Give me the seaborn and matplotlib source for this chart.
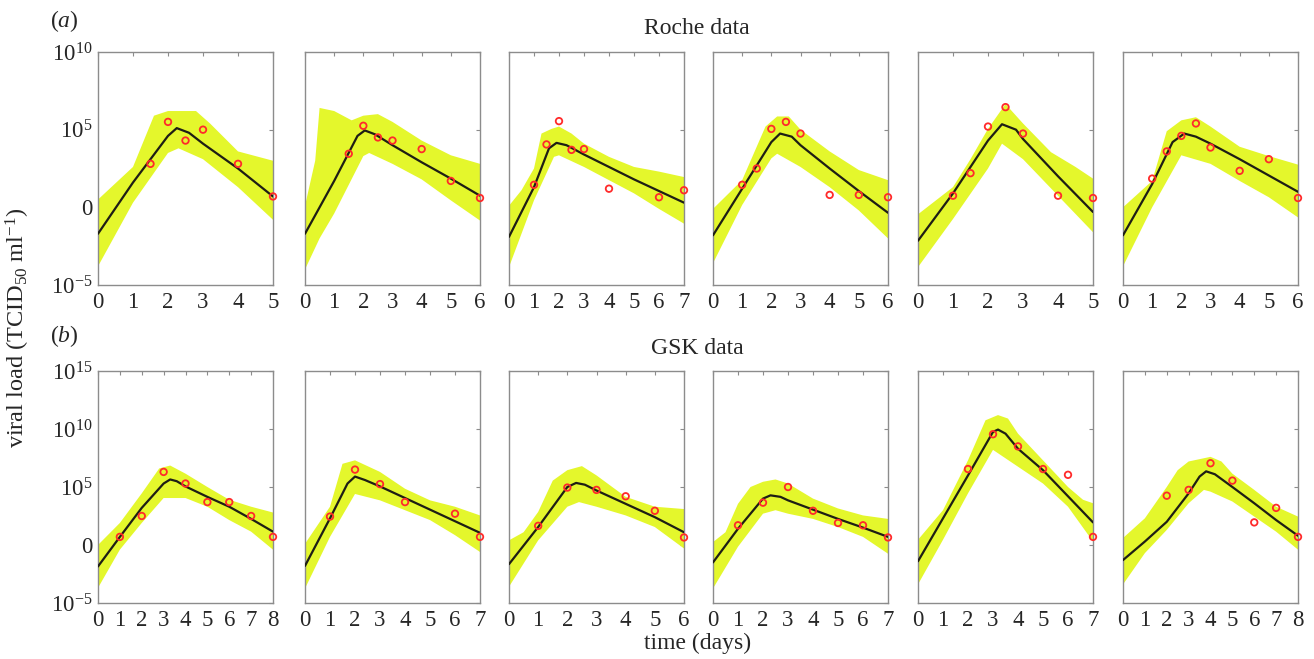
import numpy as np
import matplotlib
matplotlib.use('Agg')
import matplotlib.pyplot as plt
import seaborn as sns

# ---- data (log10 of viral load) ----
ROCHE_XMAX = [5, 6, 7, 6, 5, 6]
GSK_XMAX = [8, 7, 6, 7, 7, 8]

# best-fit curves
ROCHE_FIT_T = [[0, 1, 2, 2.25, 2.6, 3, 4, 5],
               [0, 1, 1.8, 2.05, 2.4, 3, 4, 5, 6],
               [0, 1, 1.6, 1.9, 2.3, 3, 4, 5, 6, 7],
               [0, 1, 2, 2.3, 2.7, 3, 4, 5, 6],
               [0, 1, 2, 2.4, 2.8, 3, 4, 5],
               [0, 1, 1.7, 2.1, 2.5, 3, 4, 5, 6]]
ROCHE_FIT = [[-1.7, 1.6, 4.6, 5.1, 4.8, 4.1, 2.5, 0.7],
             [-1.7, 1.7, 4.6, 4.95, 4.7, 4.0, 2.9, 1.85, 0.75],
             [-1.9, 1.3, 3.8, 4.15, 4.0, 3.4, 2.6, 1.8, 1.05, 0.3],
             [-1.8, 1.2, 4.2, 4.75, 4.55, 4.0, 2.5, 1.05, -0.35],
             [-2.15, 0.9, 4.3, 5.35, 5.0, 4.4, 2.0, -0.3],
             [-1.8, 1.5, 4.2, 4.75, 4.55, 4.1, 3.1, 2.05, 1.0]]
GSK_FIT_T = [[0, 1, 2, 3, 3.3, 3.6, 4, 5, 6, 7, 8],
             [0, 1, 1.7, 2, 2.4, 3, 4, 5, 6, 7],
             [0, 1, 2, 2.3, 2.6, 3, 4, 5, 6],
             [0, 1, 2, 2.3, 2.7, 3, 4, 5, 6, 7],
             [0, 1, 2, 3, 3.2, 3.5, 4, 5, 6, 7],
             [0, 1, 2, 3, 3.5, 3.8, 4.2, 5, 6, 7, 8]]
GSK_FIT = [[-1.85, 0.7, 3.2, 5.3, 5.65, 5.5, 5.05, 4.15, 3.3, 2.25, 1.15],
           [-1.8, 2.3, 5.3, 5.9, 5.6, 5.05, 4.05, 3.05, 2.05, 1.05],
           [-1.65, 1.55, 5.0, 5.35, 5.2, 4.7, 3.55, 2.4, 1.1],
           [-1.5, 1.4, 4.0, 4.28, 4.15, 3.85, 3.05, 2.25, 1.5, 0.7],
           [-1.4, 2.3, 6.0, 9.75, 9.95, 9.6, 8.3, 6.45, 4.2, 1.95],
           [-1.3, 0.3, 2.0, 4.45, 5.9, 6.35, 6.1, 5.0, 3.6, 2.15, 0.8]]

# upper edge of the sampled trajectories
ROCHE_HI_T = [[0, 1, 1.6, 2, 2.8, 3.2, 4, 5],
              [0, 0.35, 0.5, 1, 1.6, 2, 2.5, 3, 4, 5, 6],
              [0, 0.5, 1, 1.3, 1.7, 2, 2.5, 3, 4, 5, 6, 7],
              [0, 1, 1.8, 2.2, 2.6, 3, 4, 5, 6],
              [0, 1, 1.5, 2, 2.5, 3, 3.8, 4.5, 5],
              [0, 1, 1.5, 2, 2.5, 3, 4, 5, 6]]
ROCHE_HI = [[0.5, 2.6, 5.9, 6.2, 6.2, 5.4, 3.6, 3.0],
            [0.1, 3.0, 6.4, 6.2, 5.6, 5.9, 6.0, 5.5, 4.3, 3.35, 2.8],
            [0.1, 1.1, 2.5, 4.75, 5.05, 5.2, 4.75, 4.1, 3.25, 2.6, 2.3, 1.95],
            [-0.1, 1.75, 5.2, 5.85, 5.85, 5.0, 3.6, 2.4, 1.75],
            [-0.45, 1.3, 3.1, 5.05, 6.65, 5.4, 3.55, 2.6, 1.85],
            [0.0, 1.7, 4.9, 5.6, 5.8, 5.2, 3.9, 3.3, 2.75]]
GSK_HI_T = [[0, 1, 2, 2.8, 3.3, 4, 5, 6, 7, 8],
            [0, 1, 1.5, 2, 3, 4, 5, 6, 7],
            [0, 0.5, 1, 1.5, 2, 2.5, 3, 4, 5, 6],
            [0, 0.5, 1, 1.5, 2, 2.5, 3, 4, 5, 6, 7],
            [0, 1, 2, 2.7, 3.2, 3.6, 4, 5, 6, 6.6, 7],
            [0, 1, 2, 2.5, 3, 4, 4.5, 5, 6, 7, 8]]
GSK_HI = [[0.0, 1.9, 4.45, 6.6, 6.85, 6.15, 5.0, 3.9, 3.3, 2.8],
          [0.1, 3.3, 7.0, 7.3, 6.3, 4.85, 3.85, 3.3, 2.55],
          [0.4, 1.1, 2.85, 5.55, 6.45, 6.8, 6.0, 4.15, 3.3, 3.1],
          [0.25, 1.1, 3.55, 5.0, 5.45, 5.65, 5.3, 4.0, 3.15, 2.55, 2.25],
          [0.45, 3.0, 7.3, 10.75, 11.2, 10.9, 9.6, 7.3, 5.0, 3.9, 3.6],
          [0.6, 2.3, 5.0, 6.45, 7.2, 7.6, 7.2, 6.15, 4.75, 3.3, 2.45]]

# lower edge of the sampled trajectories
ROCHE_LO_T = [[0, 1, 2, 2.3, 3, 4, 5],
              [0, 0.5, 1, 2, 2.2, 3, 4, 5, 6],
              [0, 1, 1.8, 2, 3, 4, 5, 6, 7],
              [0, 1, 2, 2.2, 3, 4, 5, 6],
              [0, 1, 2, 2.4, 3, 4, 5],
              [0, 1, 2, 3, 4, 5, 6]]
ROCHE_LO = [[-3.8, 0.3, 3.5, 3.8, 3.1, 1.3, -0.8],
            [-4.0, -2.0, -0.4, 3.3, 3.5, 2.8, 1.8, 0.45, -0.85],
            [-3.85, 0.45, 3.25, 3.35, 2.6, 1.75, 0.9, -0.1, -1.05],
            [-3.6, 0.15, 3.15, 3.45, 2.6, 1.3, -0.2, -2.0],
            [-3.85, -0.75, 2.5, 4.1, 3.1, 0.75, -1.6],
            [-3.8, 0.0, 3.35, 2.8, 1.7, 0.65, -0.65]]
GSK_LO_T = [[0, 1, 2, 3, 4, 5, 6, 7, 8],
            [0, 1, 2, 3, 4, 5, 6, 7],
            [0, 1, 2, 2.4, 3, 4, 5, 6],
            [0, 1, 2, 2.5, 3, 4, 5, 6, 7],
            [0, 1, 2, 3, 4, 5, 6, 7],
            [0, 1, 2, 3, 3.7, 4, 5, 6, 7, 8]]
GSK_LO = [[-3.7, -0.4, 1.9, 4.05, 4.05, 3.3, 2.15, 1.15, -0.4],
          [-3.75, 0.7, 4.4, 3.85, 3.0, 2.15, 0.85, -0.6],
          [-3.6, 0.4, 3.3, 3.7, 3.3, 2.55, 1.55, -0.3],
          [-3.75, -0.15, 2.7, 3.0, 2.7, 2.25, 1.55, 0.7, -0.75],
          [-3.4, 0.45, 4.45, 8.2, 6.75, 5.3, 3.3, 0.3],
          [-3.4, -0.7, 1.3, 3.6, 4.75, 4.6, 3.75, 2.45, 1.15, -0.4]]

# observed data
ROCHE_OBS_T = [[1.5, 2, 2.5, 3, 4, 5],
               [1.5, 2, 2.5, 3, 4, 5, 6],
               [1, 1.5, 2, 2.5, 3, 4, 6, 7],
               [1, 1.5, 2, 2.5, 3, 4, 5, 6],
               [1, 1.5, 2, 2.5, 3, 4, 5],
               [1, 1.5, 2, 2.5, 3, 4, 5, 6]]
ROCHE_OBS = [[2.8, 5.5, 4.3, 5.0, 2.8, 0.7],
             [3.45, 5.25, 4.5, 4.3, 3.75, 1.7, 0.6],
             [1.45, 4.05, 5.55, 3.7, 3.75, 1.2, 0.65, 1.1],
             [1.45, 2.5, 5.05, 5.5, 4.75, 0.8, 0.8, 0.65],
             [0.75, 2.2, 5.2, 6.45, 4.75, 0.75, 0.6],
             [1.85, 3.6, 4.6, 5.4, 3.85, 2.35, 3.1, 0.6]]
GSK_OBS_T = [[1, 2, 3, 4, 5, 6, 7, 8],
             [1, 2, 3, 4, 6, 7],
             [1, 2, 3, 4, 5, 6],
             [1, 2, 3, 4, 5, 6, 7],
             [2, 3, 4, 5, 6, 7],
             [2, 3, 4, 5, 6, 7, 8]]
GSK_OBS = [[0.7, 2.5, 6.3, 5.3, 3.7, 3.7, 2.5, 0.7],
           [2.45, 6.5, 5.25, 3.7, 2.7, 0.7],
           [1.65, 4.95, 4.75, 4.2, 2.95, 0.65],
           [1.7, 3.65, 5.0, 2.95, 1.9, 1.7, 0.65],
           [6.55, 9.55, 8.5, 6.55, 6.05, 0.7],
           [4.25, 4.75, 7.05, 5.55, 1.95, 3.2, 0.7]]

ROCHE_YTICKS = [-5, 0, 5, 10]
ROCHE_YLABELS = ['$10^{-5}$', '0', '$10^{5}$', '$10^{10}$']
GSK_YTICKS = [-5, 0, 5, 10, 15]
GSK_YLABELS = ['$10^{-5}$', '0', '$10^{5}$', '$10^{10}$', '$10^{15}$']

# ---- style ----
sns.set_style('white')
plt.rcParams['font.family'] = ['Liberation Serif', 'DejaVu Serif']
plt.rcParams['mathtext.fontset'] = 'custom'
plt.rcParams['mathtext.rm'] = 'Liberation Serif'
plt.rcParams['mathtext.it'] = 'Liberation Serif:italic'

BAND = '#e4f72c'
SPINE = '#8c8c8c'

W, H = 1314, 659
fig = plt.figure(figsize=(W / 100, H / 100), dpi=100)

lefts = [98, 305, 509, 713, 918, 1123]
ax_w = 175


def px_box(left, top, w, h):
    return [left / W, 1 - (top + h) / H, w / W, h / H]


def draw_row(top, height, xmax, fit_t, fit, hi_t, hi, lo_t, lo, obs_t, obs, yticks, ylabels):
    for i in range(6):
        ax = fig.add_axes(px_box(lefts[i], top, ax_w, height))
        # yellow envelope of sampled trajectories
        ht = np.array(hi_t[i])
        lt = np.array(lo_t[i])
        poly_t = np.concatenate([ht, lt[::-1]])
        poly_v = np.concatenate([np.array(hi[i]), np.array(lo[i])[::-1]])
        ax.fill(poly_t, 10.0 ** poly_v, color=BAND, lw=0, zorder=1)
        # best fit
        sns.lineplot(x=fit_t[i], y=10.0 ** np.array(fit[i]), ax=ax,
                     color='#1e1e14', lw=1.6, zorder=3, estimator=None, sort=False)
        # data
        sns.scatterplot(x=obs_t[i], y=10.0 ** np.array(obs[i]), ax=ax, marker='o',
                        s=22, facecolor='none', edgecolor='#ff2a2a', linewidth=1.3,
                        zorder=4, clip_on=False)
        ax.set_yscale('log')
        ax.set_xlim(0, xmax[i])
        ax.set_ylim(10.0 ** yticks[0], 10.0 ** yticks[-1])
        ax.set_xticks(range(xmax[i] + 1))
        ax.set_xticklabels([str(k) for k in range(xmax[i] + 1)])
        ax.set_yticks([10.0 ** k for k in yticks])
        ax.minorticks_off()
        if i == 0:
            ax.set_yticklabels(ylabels)
        else:
            ax.set_yticklabels([])
        ax.tick_params(direction='in', length=3, width=0.8, color=SPINE,
                       top=True, right=True, labelsize=16.5, pad=4)
        ax.tick_params(axis='x', pad=5)
        for sp in ax.spines.values():
            sp.set_color(SPINE)
            sp.set_linewidth(1.0)
        ax.set_xlabel('')
        ax.set_ylabel('')


draw_row(52, 233, ROCHE_XMAX, ROCHE_FIT_T, ROCHE_FIT, ROCHE_HI_T, ROCHE_HI,
         ROCHE_LO_T, ROCHE_LO, ROCHE_OBS_T, ROCHE_OBS, ROCHE_YTICKS, ROCHE_YLABELS)
draw_row(371, 232, GSK_XMAX, GSK_FIT_T, GSK_FIT, GSK_HI_T, GSK_HI,
         GSK_LO_T, GSK_LO, GSK_OBS_T, GSK_OBS, GSK_YTICKS, GSK_YLABELS)


def ftext(x, y, s, **kw):
    fig.text(x / W, 1 - y / H, s, **kw)


ftext(64, 21, '($a$)', fontsize=17, ha='center', va='center')
ftext(64, 336, '($b$)', fontsize=17, ha='center', va='center')
ftext(697, 29, 'Roche data', fontsize=17, ha='center', va='center')
ftext(697, 348, 'GSK data', fontsize=17, ha='center', va='center')
ftext(698, 643, 'time (days)', fontsize=17, ha='center', va='center')
ftext(18, 328, 'viral load (TCID$_{50}$ ml$^{-1}$)', fontsize=17.5,
      ha='center', va='center', rotation=90)

fig.savefig('out.png', dpi=100, facecolor='white')
